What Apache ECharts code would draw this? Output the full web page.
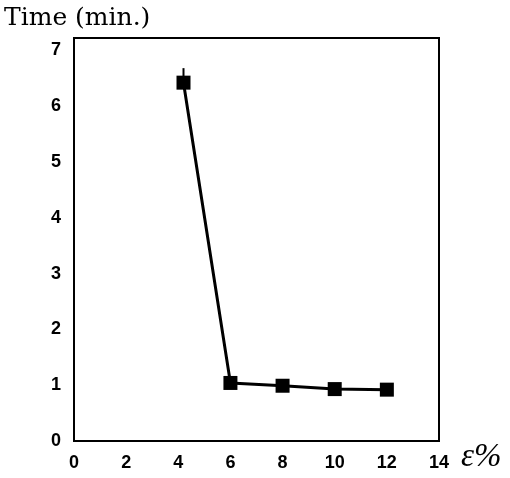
<!DOCTYPE html>
<html><head><meta charset="utf-8">
<script src="https://cdn.jsdelivr.net/npm/echarts@6/dist/echarts.min.js"></script>
<style>html,body{margin:0;padding:0;background:#fff}#c{width:510px;height:478px}</style>
</head><body><div id="c"></div>
<script>
const epsilon = [4.2, 6, 8, 10, 12];
const timeMin = [6.42, 1.04, 0.99, 0.93, 0.92];
const errX = [4.2, 4.2];
const errY = [6.42, 6.68];
const xTicks = [0, 2, 4, 6, 8, 10, 12, 14];
const yTicks = [0, 1, 2, 3, 4, 5, 6, 7];

const chart = echarts.init(document.getElementById('c'), null, {renderer: 'canvas'});
const labelStyle = {color: '#000', fontFamily: 'Liberation Sans, Arial, sans-serif', fontWeight: 'bold', fontSize: 18};
chart.setOption({
  animation: false,
  backgroundColor: '#fff',
  grid: {left: 74, right: 71, top: 38, bottom: 37, show: true, borderColor: '#000', borderWidth: 2, backgroundColor: 'transparent'},
  xAxis: {
    type: 'value', min: xTicks[0], max: xTicks[xTicks.length - 1], interval: 2,
    axisLine: {show: true, lineStyle: {color: '#000', width: 2}},
    axisTick: {show: false}, splitLine: {show: false},
    axisLabel: Object.assign({margin: 13}, labelStyle)
  },
  yAxis: {
    type: 'value', min: yTicks[0], max: 7.22, interval: 1,
    axisLine: {show: true, lineStyle: {color: '#000', width: 2}},
    axisTick: {show: false}, splitLine: {show: false},
    axisLabel: Object.assign({margin: 13, formatter: v => (yTicks.indexOf(v) >= 0 ? String(v) : '')}, labelStyle)
  },
  graphic: [
    {type: 'text', left: 4, top: 6, style: {text: 'Time (min.)', fill: '#000', font: '25px "DejaVu Serif", "Liberation Serif", serif'}},
    {type: 'text', left: 461, top: 441, style: {text: 'ε%', fill: '#000', font: 'italic 33px "Liberation Serif", "Times New Roman", serif'}}
  ],
  series: [
    {type: 'line', data: errX.map((x, i) => [x, errY[i]]), symbol: 'none', lineStyle: {color: '#000', width: 2}, z: 1},
    {type: 'line', data: epsilon.map((x, i) => [x, timeMin[i]]), symbol: 'rect', symbolSize: 14,
     itemStyle: {color: '#000'}, lineStyle: {color: '#000', width: 3}, z: 2}
  ]
});
</script></body></html>
